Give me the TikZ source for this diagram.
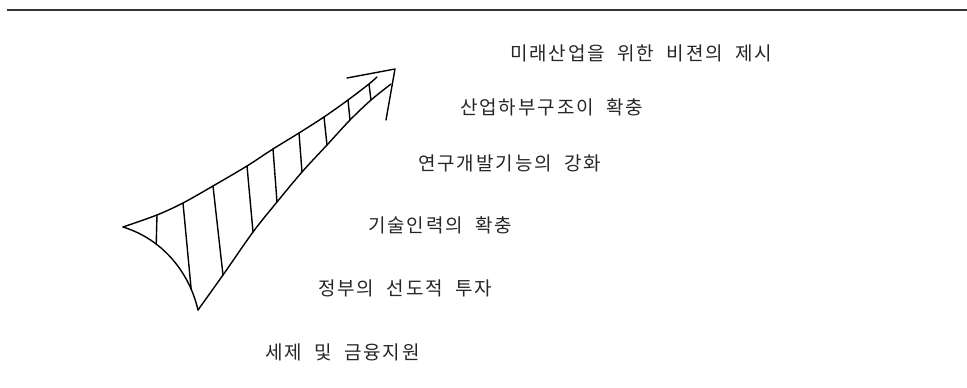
\documentclass[tikz,border=0pt]{standalone}
\usepackage{fontspec}
\newfontfamily\kr[LetterSpace=10,WordSpace=2]{Noto Sans CJK KR}
\begin{document}
\begin{tikzpicture}[x=1pt,y=-1pt,
  stroke/.style={line width=1.4pt,black,line join=round,line cap=round},
  label/.style={anchor=west,inner sep=0pt,font=\kr\fontsize{19}{21}\selectfont,text=black!85}]
\useasboundingbox (0,0) rectangle (967,388);
% top rule
\coordinate (r1) at (7,10);
\coordinate (r2) at (967,10);
\draw[line width=1.6pt,black!80] (r1) -- (r2);
% arrow body
\coordinate (lt) at (123,227);
\coordinate (bt) at (198,310);
\coordinate (tip) at (395,69);
\coordinate (b1) at (347,78);
\coordinate (b2) at (386,120);
% top curve (hatch tops included)
\coordinate (t1) at (157,215);
\coordinate (t2) at (183,203);
\coordinate (t3) at (213,186);
\coordinate (t4) at (247,166);
\coordinate (t5) at (273,149);
\coordinate (t6) at (299,133);
\coordinate (t7) at (324,117);
\coordinate (t8) at (348,100);
\coordinate (t9) at (369,84);
\coordinate (tend) at (377,77);
% bottom line
\coordinate (u3) at (223,275);
\coordinate (u4) at (253,232);
\coordinate (u5) at (277,202);
\coordinate (u6) at (302,172);
\coordinate (u7) at (327,145);
\coordinate (u8) at (350,120);
\coordinate (u9) at (371,100);
\coordinate (bend) at (391,84);
\draw[stroke] plot[smooth,tension=0.5] coordinates {(lt) (t1) (t2) (t3) (t4) (t5) (t6) (t7) (t8) (t9) (tend)};
\draw[stroke] (lt) .. controls (165,240) and (190,275) .. (bt)
  coordinate[pos=0.3] (u1) coordinate[pos=0.8] (u2);
\draw[stroke] plot[smooth,tension=0.5] coordinates {(bt) (u3) (u4) (u5) (u6) (u7) (u8) (u9) (bend)};
\foreach \i in {1,...,9} {\draw[stroke] (t\i) -- (u\i);}
\draw[stroke] (b1) -- (tip) -- (b2);
% labels
\node[label] (l6) at (510,53) {미래산업을 위한 비젼의 제시};
\node[label] (l5) at (460,107) {산업하부구조이 확충};
\node[label] (l4) at (418,163) {연구개발기능의 강화};
\node[label] (l3) at (368,225) {기술인력의 확충};
\node[label] (l2) at (318,288) {정부의 선도적 투자};
\node[label] (l1) at (265,352) {세제 및 금융지원};
\end{tikzpicture}
\end{document}
